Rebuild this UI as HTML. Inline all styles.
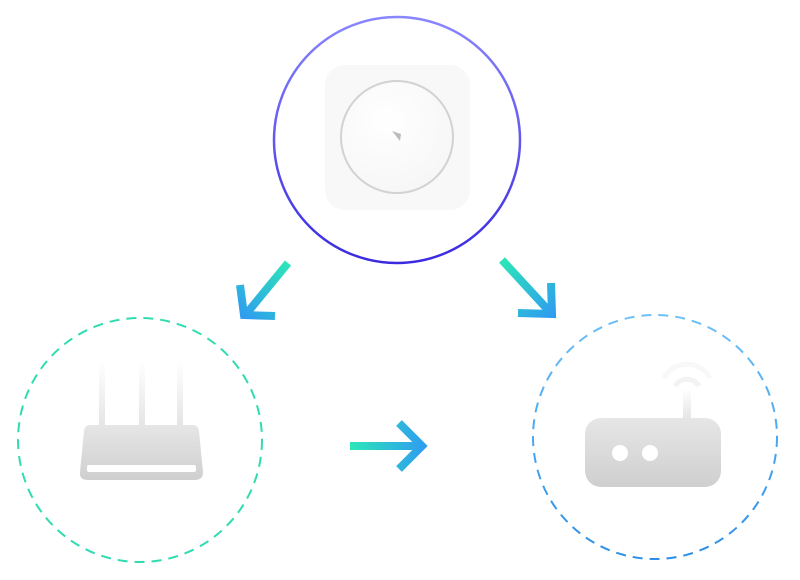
<!DOCTYPE html>
<html><head><style>html,body{margin:0;padding:0;background:#fff;}svg{display:block}</style></head>
<body>
<svg width="800" height="580" viewBox="0 0 800 580" xmlns="http://www.w3.org/2000/svg">
<defs>
<linearGradient id="gTop" x1="0" y1="0" x2="0" y2="1"><stop offset="0" stop-color="#8a86ff"/><stop offset="1" stop-color="#3a2ae0"/></linearGradient>
<linearGradient id="gRight" x1="0" y1="0" x2="0" y2="1"><stop offset="0" stop-color="#6cc0f8"/><stop offset="1" stop-color="#2a8ee8"/></linearGradient>
<linearGradient id="aL" gradientUnits="userSpaceOnUse" x1="288" y1="263" x2="243" y2="318"><stop offset="0" stop-color="#2ce6b8"/><stop offset="1" stop-color="#2f9cf0"/></linearGradient>
<linearGradient id="aR" gradientUnits="userSpaceOnUse" x1="502" y1="260" x2="553" y2="316"><stop offset="0" stop-color="#2ce6b8"/><stop offset="1" stop-color="#2f9cf0"/></linearGradient>
<linearGradient id="aM" gradientUnits="userSpaceOnUse" x1="350" y1="446" x2="426" y2="446"><stop offset="0" stop-color="#2ce6b8"/><stop offset="1" stop-color="#2f9cf0"/></linearGradient>
<linearGradient id="ant" x1="0" y1="0" x2="0" y2="1"><stop offset="0" stop-color="#fff"/><stop offset="1" stop-color="#e4e4e4"/></linearGradient>
<linearGradient id="body" x1="0" y1="0" x2="0" y2="1"><stop offset="0" stop-color="#e6e6e6"/><stop offset="1" stop-color="#cfcfcf"/></linearGradient>
<radialGradient id="disc" cx="0.4" cy="0.35" r="0.7"><stop offset="0" stop-color="#ffffff"/><stop offset="1" stop-color="#f6f6f6"/></radialGradient>
</defs>

<circle cx="397" cy="140" r="123" fill="none" stroke="url(#gTop)" stroke-width="2.5"/>
<rect x="325" y="65" width="145" height="145" rx="20" fill="#f8f8f8"/>
<circle cx="397" cy="137" r="56" fill="url(#disc)" stroke="#d2d2d2" stroke-width="2"/>
<path d="M392 131 L401 134 L400 141 Z" fill="#bcbcbc"/>

<circle cx="140" cy="440" r="122" fill="none" stroke="#2fdcb0" stroke-width="2" stroke-dasharray="10 7"/>
<rect x="99" y="362" width="6" height="65" fill="url(#ant)"/>
<rect x="139" y="362" width="6" height="65" fill="url(#ant)"/>
<rect x="177" y="362" width="6" height="65" fill="url(#ant)"/>
<path d="M90 425 H193 Q198 425 199 431 L203 472 Q203 480 195 480 H88 Q79 480 80 472 L84 431 Q85 425 90 425 Z" fill="url(#body)"/>
<rect x="87" y="465" width="109" height="7" rx="2" fill="#fff"/>

<circle cx="655" cy="437" r="122" fill="none" stroke="url(#gRight)" stroke-width="2" stroke-dasharray="10 7"/>
<path d="M664 378 A26 26 0 0 1 710 378" fill="none" stroke="#f8f8f8" stroke-width="5"/>
<path d="M675 386 A14 14 0 0 1 699 386" fill="none" stroke="#f3f3f3" stroke-width="5"/>
<rect x="683" y="389" width="8" height="31" fill="url(#ant)"/>
<rect x="585" y="418" width="136" height="69" rx="16" fill="url(#body)"/>
<circle cx="620" cy="453" r="8" fill="#fff"/>
<circle cx="650" cy="453" r="8" fill="#fff"/>

<g fill="none" stroke-width="8" stroke-linecap="butt" stroke-linejoin="miter">
<path d="M288 263 L247 313" stroke="url(#aL)"/>
<path d="M240 285 L244 315 L275 316" stroke="url(#aL)"/>
<path d="M502 260 L549 311" stroke="url(#aR)"/>
<path d="M551 283 L552 314 L518 313" stroke="url(#aR)"/>
<path d="M350 446 L422 446" stroke="url(#aM)"/>
<path d="M399 423 L422 446 L399 469" stroke="url(#aM)"/>
</g>
</svg>
</body></html>
